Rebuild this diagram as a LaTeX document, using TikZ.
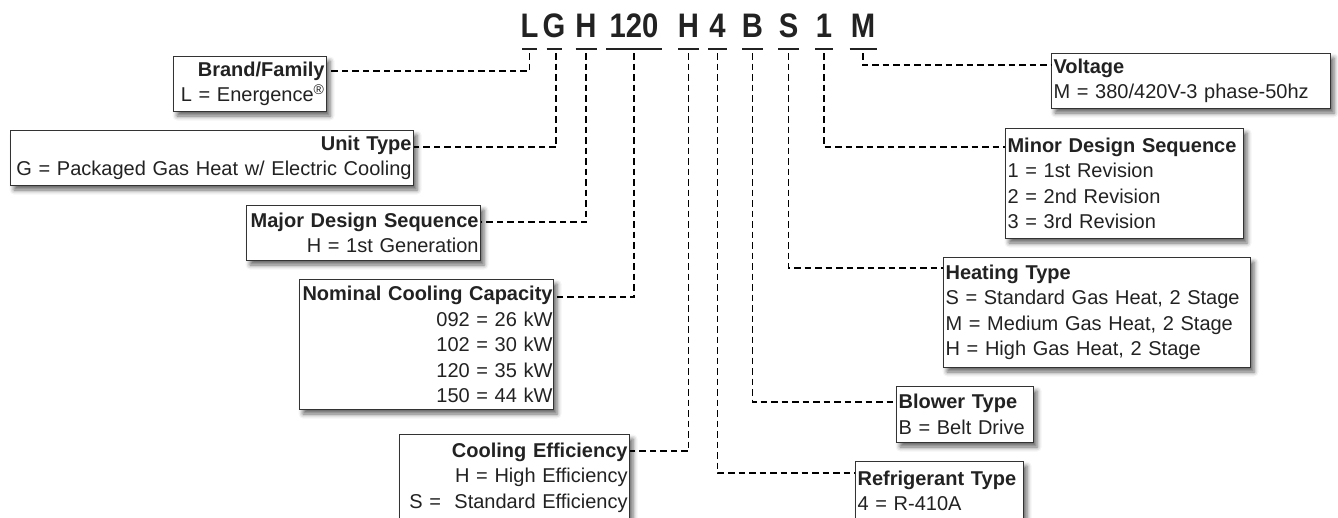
\documentclass[tikz,border=0pt]{standalone}
\usepackage{fontspec}
\setmainfont{Liberation Sans}
\newfontfamily\codefont[FakeStretch=0.86]{Liberation Sans}
\usetikzlibrary{shadows.blur}
\definecolor{ink}{HTML}{222222}
\definecolor{edge}{HTML}{333333}
\tikzset{
  box/.style={draw=edge, line width=1.1pt, fill=white, rectangle, anchor=north west,
    inner xsep=2pt, inner ysep=0pt, text=ink,
    font=\fontsize{20}{25.5}\selectfont,
    blur shadow={shadow xshift=3.5pt, shadow yshift=-4.5pt, shadow blur radius=4.5pt, shadow opacity=60}},
  rbox/.style={box, align=right},
  lbox/.style={box, align=left},
  code/.style={anchor=base, inner xsep=0pt, inner ysep=0pt, text=ink, font=\codefont\fontsize{34}{40}\selectfont\bfseries},
  uline/.style={draw=ink, line width=2.4pt},
  conn/.style={draw=black, line width=1.9pt, dash pattern=on 6.5pt off 4pt}
}
\begin{document}
\begin{tikzpicture}[x=1pt,y=-1pt]
\useasboundingbox (0,0) rectangle (1338,517);
% code letters
\node[code] (cL) at (529.5,37) {L};
\node[code] (cG) at (554,37) {G};
\node[code] (cH) at (586,37) {H};
\node[code] (cN) at (634,37) {120};
\node[code] (cE) at (688.5,37) {H};
\node[code] (cR) at (717.5,37) {4};
\node[code] (cB) at (752.5,37) {B};
\node[code] (cS) at (788.5,37) {S};
\node[code] (cM) at (824,37) {1};
\node[code] (cV) at (863,37) {M};
\foreach \n/\w in {cL/7.5,cG/7.5,cH/10.5,cN/28,cE/10.5,cR/9.5,cB/10.5,cS/10.5,cM/9,cV/13.5}
  \draw[uline] ([xshift=-\w pt,yshift=-12pt]\n.base) -- ([xshift=\w pt,yshift=-12pt]\n.base);
% left boxes
\node[rbox, minimum width=153pt, minimum height=55pt, text width=149pt] (brand) at (173,56)
  {\mbox{\textbf{Brand/Family}}\\\mbox{L = Energence\textsuperscript{®}}};
\node[rbox, minimum width=403pt, minimum height=55pt, text width=399pt] (unit) at (10,130)
  {\mbox{\textbf{Unit Type}}\\\mbox{G = Packaged Gas Heat w/ Electric Cooling}};
\node[rbox, minimum width=234pt, minimum height=55pt, text width=230pt] (major) at (246,205)
  {\mbox{\textbf{Major Design Sequence}}\\\mbox{H = 1st Generation}};
\node[rbox, minimum width=254pt, minimum height=130pt, text width=252pt, inner xsep=1pt] (nominal) at (299,279)
  {\mbox{\textbf{Nominal Cooling Capacity}}\\092 = 26 kW\\102 = 30 kW\\120 = 35 kW\\150 = 44 kW};
\node[rbox, minimum width=230pt, minimum height=86pt, text width=226pt] (cooling) at (399,434)
  {\mbox{\textbf{Cooling Efficiency}}\\\mbox{H = High Efficiency}\\\mbox{S =\ \ Standard Efficiency}};
% right boxes
\node[lbox, minimum width=279pt, minimum height=55pt, text width=275pt] (voltage) at (1051,53)
  {\mbox{\textbf{Voltage}}\\\mbox{M = 380/420V-3 phase-50hz}};
\node[lbox, minimum width=238pt, minimum height=110pt, text width=234pt] (minor) at (1005,128)
  {\mbox{\textbf{Minor Design Sequence}}\\1 = 1st Revision\\2 = 2nd Revision\\3 = 3rd Revision};
\node[lbox, minimum width=307pt, minimum height=110pt, text width=303pt] (heating) at (943,257)
  {\mbox{\textbf{Heating Type}}\\\mbox{S = Standard Gas Heat, 2 Stage}\\\mbox{M = Medium Gas Heat, 2 Stage}\\\mbox{H = High Gas Heat, 2 Stage}};
\node[lbox, minimum width=137pt, minimum height=56pt, text width=133pt] (blower) at (896,386)
  {\mbox{\textbf{Blower Type}}\\\mbox{B = Belt Drive}};
\node[lbox, minimum width=168pt, minimum height=59pt, text width=164pt] (refrig) at (855,461)
  {\mbox{\textbf{Refrigerant Type}}\\\mbox{4 = R-410A}};
% connectors
\draw[conn] ([yshift=-16pt]cL.base) |- ([yshift=-15pt]brand.north east);
\draw[conn] ([xshift=2pt,yshift=-16pt]cG.base) |- ([yshift=-17pt]unit.north east);
\draw[conn] ([yshift=-16pt]cH.base) |- ([yshift=-17pt]major.north east);
\draw[conn] ([yshift=-16pt]cN.base) |- ([yshift=-18pt]nominal.north east);
\draw[conn] ([yshift=-16pt]cE.base) |- ([yshift=-17pt]cooling.north east);
\draw[conn] ([yshift=-16pt]cR.base) |- ([yshift=-12pt]refrig.north west);
\draw[conn] ([yshift=-16pt]cB.base) |- ([yshift=-16pt]blower.north west);
\draw[conn] ([yshift=-16pt]cS.base) |- ([yshift=-11pt]heating.north west);
\draw[conn] ([yshift=-16pt]cM.base) |- ([yshift=-19pt]minor.north west);
\draw[conn] ([yshift=-16pt]cV.base) |- ([yshift=-12pt]voltage.north west);
\end{tikzpicture}
\end{document}
